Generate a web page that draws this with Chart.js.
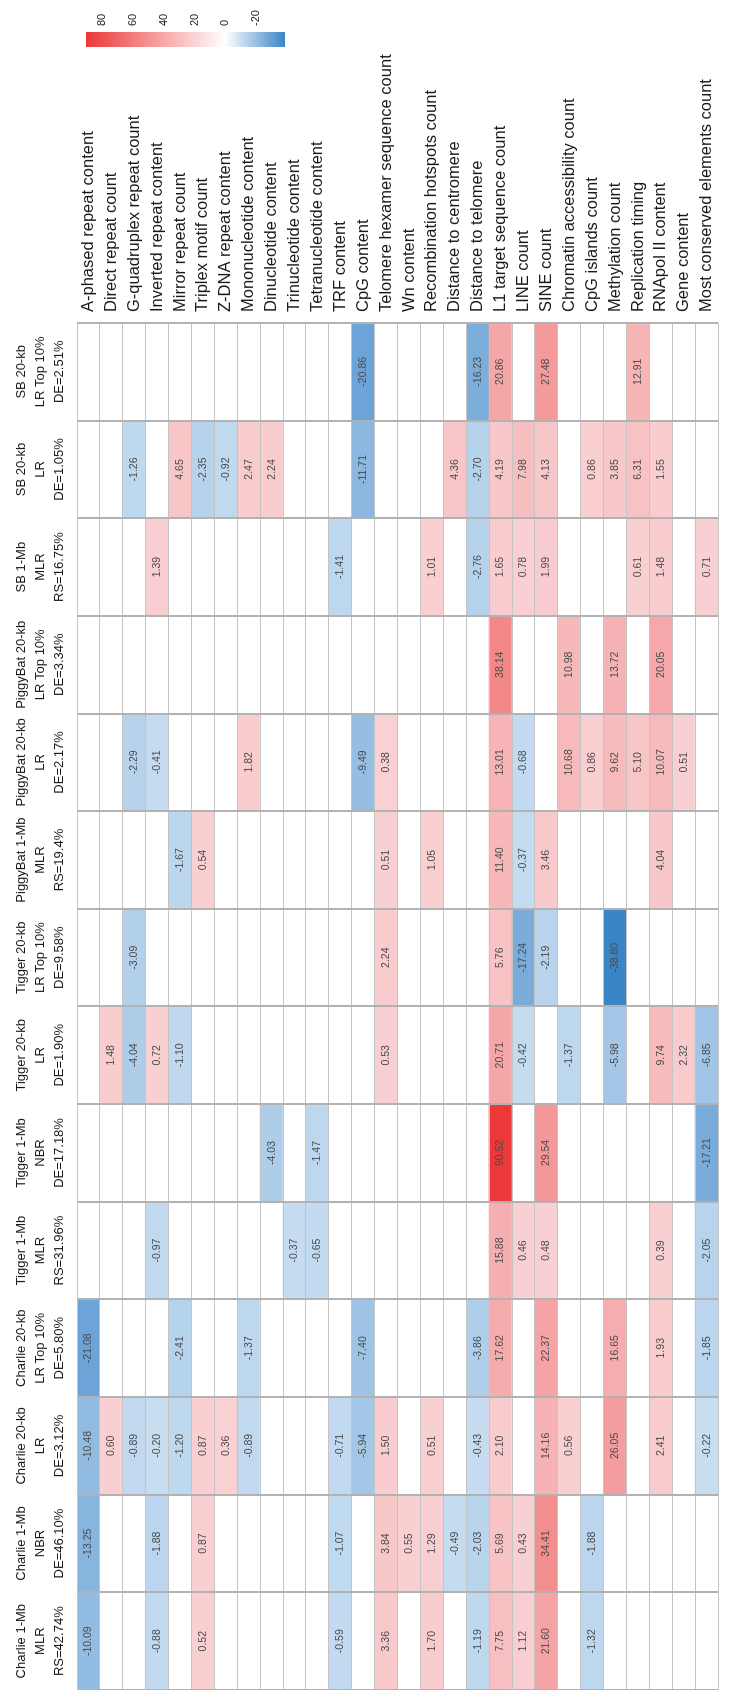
<!DOCTYPE html>
<html>
<head>
<meta charset="utf-8">
<script src="https://cdn.jsdelivr.net/npm/chart.js@4.4.1/dist/chart.umd.min.js"></script>
<style>
  html, body { margin: 0; padding: 0; background: #fff; width: 739px; height: 1690px; overflow: hidden; }
  /* the chart is laid out lying on its side and turned to stand up */
  #wrap { position: absolute; left: 0; top: 0; width: 1690px; height: 739px;
          transform-origin: 0 0; transform: translateY(1690px) rotate(-90deg); }
</style>
</head>
<body>
<div id="wrap"><canvas id="heat" width="1690" height="739"></canvas></div>
<script>
const _ = null;

const features = [
  "A-phased repeat content", "Direct repeat count", "G-quadruplex repeat count",
  "Inverted repeat content", "Mirror repeat count", "Triplex motif count",
  "Z-DNA repeat content", "Mononucleotide content", "Dinucleotide content",
  "Trinucleotide content", "Tetranucleotide content", "TRF content", "CpG content",
  "Telomere hexamer sequence count", "Wn content", "Recombination hotspots count",
  "Distance to centromere", "Distance to telomere", "L1 target sequence count",
  "LINE count", "SINE count", "Chromatin accessibility count", "CpG islands count",
  "Methylation count", "Replication timing", "RNApol II content", "Gene content",
  "Most conserved elements count"
];

const models = [
  ["SB 20-kb", "LR Top 10%", "DE=2.51%"],
  ["SB 20-kb", "LR", "DE=1.05%"],
  ["SB 1-Mb", "MLR", "RS=16.75%"],
  ["PiggyBat 20-kb", "LR Top 10%", "DE=3.34%"],
  ["PiggyBat 20-kb", "LR", "DE=2.17%"],
  ["PiggyBat 1-Mb", "MLR", "RS=19.4%"],
  ["Tigger 20-kb", "LR Top 10%", "DE=9.58%"],
  ["Tigger 20-kb", "LR", "DE=1.90%"],
  ["Tigger 1-Mb", "NBR", "DE=17.18%"],
  ["Tigger 1-Mb", "MLR", "RS=31.96%"],
  ["Charlie 20-kb", "LR Top 10%", "DE=5.80%"],
  ["Charlie 20-kb", "LR", "DE=3.12%"],
  ["Charlie 1-Mb", "NBR", "DE=46.10%"],
  ["Charlie 1-Mb", "MLR", "RS=42.74%"]
];

// one array per model, 28 values in feature order (null = blank cell)
const sbTop10  = [_,_,_,_,_,_,_,  _,_,_,_,_,-20.86,_,  _,_,_,-16.23,20.86,_,27.48,  _,_,_,12.91,_,_,_];
const sbLR     = [_,_,-1.26,_,4.65,-2.35,-0.92,  2.47,2.24,_,_,_,-11.71,_,  _,_,4.36,-2.70,4.19,7.98,4.13,  _,0.86,3.85,6.31,1.55,_,_];
const sb1Mb    = [_,_,_,1.39,_,_,_,  _,_,_,_,-1.41,_,_,  _,1.01,_,-2.76,1.65,0.78,1.99,  _,_,_,0.61,1.48,_,0.71];
const pbTop10  = [_,_,_,_,_,_,_,  _,_,_,_,_,_,_,  _,_,_,_,38.14,_,_,  10.98,_,13.72,_,20.05,_,_];
const pbLR     = [_,_,-2.29,-0.41,_,_,_,  1.82,_,_,_,_,-9.49,0.38,  _,_,_,_,13.01,-0.68,_,  10.68,0.86,9.62,5.10,10.07,0.51,_];
const pb1Mb    = [_,_,_,_,-1.67,0.54,_,  _,_,_,_,_,_,0.51,  _,1.05,_,_,11.40,-0.37,3.46,  _,_,_,_,4.04,_,_];
const tgTop10  = [_,_,-3.09,_,_,_,_,  _,_,_,_,_,_,2.24,  _,_,_,_,5.76,-17.24,-2.19,  _,_,-38.80,_,_,_,_];
const tgLR     = [_,1.48,-4.04,0.72,-1.10,_,_,  _,_,_,_,_,_,0.53,  _,_,_,_,20.71,-0.42,_,  -1.37,_,-5.98,_,9.74,2.32,-6.85];
const tgNBR    = [_,_,_,_,_,_,_,  _,-4.03,_,-1.47,_,_,_,  _,_,_,_,90.52,_,29.54,  _,_,_,_,_,_,-17.21];
const tgMLR    = [_,_,_,-0.97,_,_,_,  _,_,-0.37,-0.65,_,_,_,  _,_,_,_,15.88,0.46,0.48,  _,_,_,_,0.39,_,-2.05];
const chTop10  = [-21.08,_,_,_,-2.41,_,_,  -1.37,_,_,_,_,-7.40,_,  _,_,_,-3.86,17.62,_,22.37,  _,_,16.65,_,1.93,_,-1.85];
const chLR     = [-10.48,0.60,-0.89,-0.20,-1.20,0.87,0.36,  -0.89,_,_,_,-0.71,-5.94,1.50,  _,0.51,_,-0.43,2.10,_,14.16,  0.56,_,26.05,_,2.41,_,-0.22];
const chNBR    = [-13.25,_,_,-1.88,_,0.87,_,  _,_,_,_,-1.07,_,3.84,  0.55,1.29,-0.49,-2.03,5.69,0.43,34.41,  _,-1.88,_,_,_,_,_];
const chMLR    = [-10.09,_,_,-0.88,_,0.52,_,  _,_,_,_,-0.59,_,3.36,  _,1.70,_,-1.19,7.75,1.12,21.60,  _,-1.32,_,_,_,_,_];

const modelValues = [sbTop10, sbLR, sb1Mb, pbTop10, pbLR, pb1Mb, tgTop10, tgLR, tgNBR, tgMLR,
                     chTop10, chLR, chNBR, chMLR];

const colorbarTicks = [80, 60, 40, 20, 0, -20];

const allValues = modelValues.flat().filter(v => v !== null);
const vMax = Math.max(...allValues);
const vMin = Math.min(...allValues);

const RED = [236, 56, 56], PINK = [249, 210, 212];
const BLUE = [58, 132, 200], PALEBLUE = [203, 224, 242];

function mix(a, b, t) {
  return a.map((c, i) => Math.round(c + (b[i] - c) * t));
}

function cellColor(v) {
  if (v === null) return "#ffffff";
  let c;
  if (v >= 0) c = mix(PINK, RED, Math.pow(v / vMax, 0.85));
  else c = mix(PALEBLUE, BLUE, Math.pow(v / vMin, 0.7));
  return "rgb(" + c.join(",") + ")";
}

Chart.defaults.font.family = '"Liberation Sans", Arial, Helvetica, sans-serif';

// numbers written inside the coloured cells
const cellText = {
  id: "cellText",
  afterDraw(chart) {
    const ctx = chart.ctx;
    ctx.save();
    ctx.font = '10.5px "Liberation Sans", Arial, sans-serif';
    ctx.fillStyle = "#4a4a4a";
    ctx.textAlign = "center";
    ctx.textBaseline = "middle";
    chart.data.datasets.forEach((ds, i) => {
      chart.getDatasetMeta(i).data.forEach((bar, j) => {
        const v = ds.values[j];
        if (v === null) return;
        ctx.fillText(v.toFixed(2), (bar.x + bar.base) / 2, bar.y);
      });
    });
    ctx.restore();
  }
};

// colour key at the side
const colorBar = {
  id: "colorBar",
  afterDraw(chart) {
    const ctx = chart.ctx;
    const left = 1643, w = 15, top = 86, bottom = 285;
    const yOf = v => top + (vMax - v) / (vMax - vMin) * (bottom - top);
    ctx.save();
    const g = ctx.createLinearGradient(0, top, 0, bottom);
    g.addColorStop(0, "rgb(" + RED.join(",") + ")");
    g.addColorStop(vMax / (vMax - vMin), "#ffffff");
    g.addColorStop(1, "rgb(" + BLUE.join(",") + ")");
    ctx.fillStyle = g;
    ctx.fillRect(left, top, w, bottom - top);
    ctx.font = '11px "Liberation Sans", Arial, sans-serif';
    ctx.fillStyle = "#222";
    ctx.textAlign = "left";
    ctx.textBaseline = "middle";
    colorbarTicks.forEach(t => ctx.fillText(String(t), left + w + 6, yOf(t)));
    ctx.restore();
  }
};

new Chart(document.getElementById("heat"), {
  type: "bar",
  data: {
    labels: features,
    datasets: modelValues.map((vals, i) => ({
      label: models[i].join(" "),
      data: features.map(() => 1),
      values: vals,
      backgroundColor: vals.map(cellColor),
      borderWidth: 0,
      barPercentage: 1,
      categoryPercentage: 1
    }))
  },
  options: {
    indexAxis: "y",
    responsive: false,
    animation: false,
    events: [],
    layout: { padding: 0 },
    plugins: { legend: { display: false }, tooltip: { enabled: false } },
    scales: {
      x: { type: "linear", stacked: true, min: 0, max: models.length, reverse: true, display: false },
      y: {
        type: "category", position: "right", stacked: true, offset: true,
        grid: { offset: true, color: "#c4c4c4", lineWidth: 1, drawTicks: false, z: 1 },
        border: { display: false },
        ticks: { autoSkip: false, padding: 11, color: "#1a1a1a", font: { size: 16.5 } },
        afterFit: s => { s.width = 323; }
      },
      x2: {
        type: "category", position: "top", labels: models, reverse: true, offset: true,
        grid: { offset: true, color: "#b2b2b2", lineWidth: 2, drawTicks: false, z: 1 },
        border: { display: false },
        ticks: { autoSkip: false, maxRotation: 0, minRotation: 0, padding: 8.5, color: "#1a1a1a",
                 font: { size: 13, lineHeight: "19px" } },
        afterFit: s => { s.height = 77; }
      }
    }
  },
  plugins: [cellText, colorBar]
});
</script>
</body>
</html>
